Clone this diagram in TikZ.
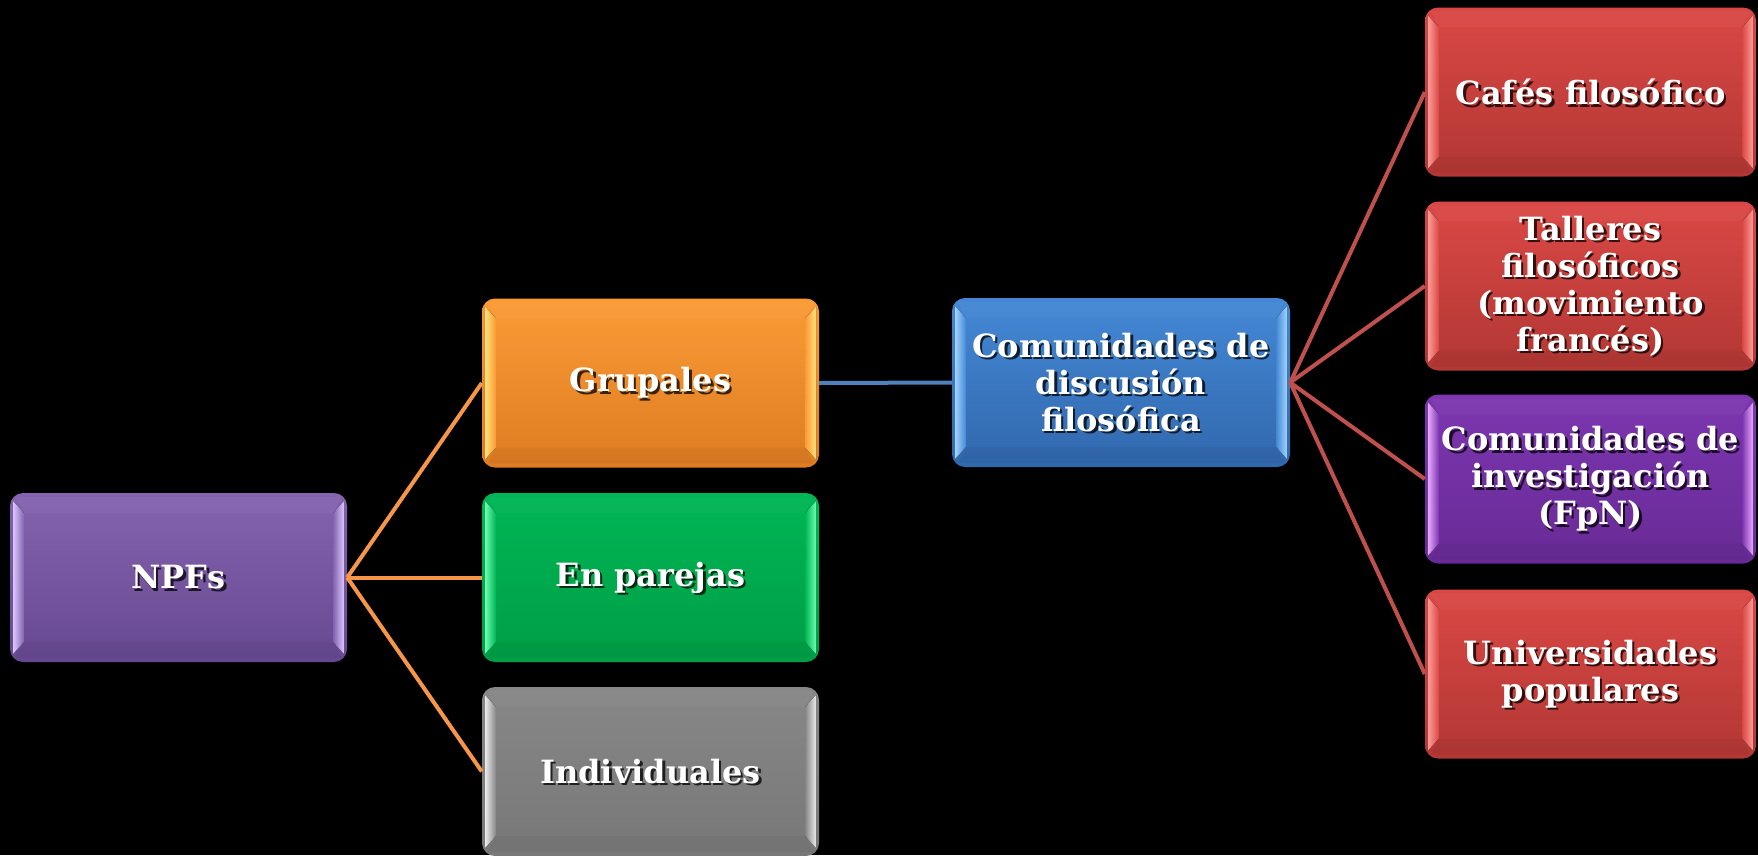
\documentclass[tikz,border=0pt]{standalone}
\usepackage{fontspec}
\setmainfont{DejaVu Serif}
\definecolor{pPtop}{HTML}{8564AF}
\definecolor{pPbot}{HTML}{664890}
\definecolor{pPhi}{HTML}{DCC8FF}
\definecolor{pOtop}{HTML}{FA9B36}
\definecolor{pObot}{HTML}{DE7C22}
\definecolor{pOhi}{HTML}{FFE27C}
\definecolor{pGtop}{HTML}{00B655}
\definecolor{pGbot}{HTML}{009E46}
\definecolor{pGhi}{HTML}{70FFB4}
\definecolor{pYtop}{HTML}{878787}
\definecolor{pYbot}{HTML}{787878}
\definecolor{pYhi}{HTML}{EDEDED}
\definecolor{pBtop}{HTML}{4488D5}
\definecolor{pBbot}{HTML}{3168AD}
\definecolor{pBhi}{HTML}{A2D6FF}
\definecolor{pRtop}{HTML}{DA4845}
\definecolor{pRbot}{HTML}{B23734}
\definecolor{pRhi}{HTML}{FF9C97}
\definecolor{pVtop}{HTML}{7D36B0}
\definecolor{pVbot}{HTML}{682B96}
\definecolor{pVhi}{HTML}{E9AAFF}
\definecolor{lineO}{HTML}{F79646}
\definecolor{lineB}{HTML}{4F81BD}
\definecolor{lineR}{HTML}{C0504D}
\newcommand{\gbox}[5]{%
  \node[gboxshape, minimum width=#3, top color=#4top, bottom color=#4bot] (#1) at #2 {};
  \fill[left color=#4hi, right color=#4top]
    ([shift={(3,8)}]#1.north west) -- ([shift={(14,20)}]#1.north west) --
    ([shift={(14,-20)}]#1.south west) -- ([shift={(3,-8)}]#1.south west) -- cycle;
  \fill[left color=#4top, right color=#4hi]
    ([shift={(-3,8)}]#1.north east) -- ([shift={(-14,20)}]#1.north east) --
    ([shift={(-14,-20)}]#1.south east) -- ([shift={(-3,-8)}]#1.south east) -- cycle;
  \fill[#4bot!80!black, opacity=0.2]
    ([shift={(14,-20)}]#1.south west) -- ([shift={(-14,-20)}]#1.south east) --
    ([shift={(-6,-4)}]#1.south east) -- ([shift={(6,-4)}]#1.south west) -- cycle;
  \fill[#4top!85!white, opacity=0.2]
    ([shift={(14,20)}]#1.north west) -- ([shift={(-14,20)}]#1.north east) --
    ([shift={(-6,4)}]#1.north east) -- ([shift={(6,4)}]#1.north west) -- cycle;
  \node[txtsh] (#1s) at ([shift={(2.5,2.5)}]#1.center) {#5};
  \node[txt] (#1t) at (#1.center) {#5};
}
\begin{document}
\begin{tikzpicture}[x=1pt, y=-1pt,
  gboxshape/.style={rectangle, rounded corners=13pt, minimum height=169pt, inner sep=0pt, draw=none},
  txt/.style={align=center, text=white, inner sep=0pt, font=\fontsize{32}{37}\selectfont\bfseries},
  txtsh/.style={txt, text=black, text opacity=0.75},
  conn/.style={line width=4pt},
]
\useasboundingbox (0,0) rectangle (1758,855);
\fill[black] (0,0) rectangle (1758,855);

\gbox{npf}{(178.5,577.5)}{337pt}{pP}{NPFs}
\gbox{grp}{(650.5,383)}{337pt}{pO}{Grupales}
\gbox{par}{(650.5,577.5)}{337pt}{pG}{En parejas}
\gbox{ind}{(650.5,771.5)}{337pt}{pY}{Individuales}
\gbox{cdf}{(1121,382.5)}{338pt}{pB}{Comunidades de\\discusión\\filosófica}
\gbox{caf}{(1590.5,92)}{331pt}{pR}{Cafés filosófico}
\gbox{tal}{(1590.5,286)}{331pt}{pR}{Talleres\\filosóficos\\(movimiento\\francés)}
\gbox{fpn}{(1590.5,479)}{331pt}{pV}{Comunidades de\\investigación\\(FpN)}
\gbox{uni}{(1590.5,674)}{331pt}{pR}{Universidades\\populares}

\draw[conn, lineO] (npf.east) -- (grp.west);
\draw[conn, lineO] (npf.east) -- (par.west);
\draw[conn, lineO] (npf.east) -- (ind.west);
\draw[conn, lineB] (grp.east) -- (cdf.west);
\draw[conn, lineR] (cdf.east) -- (caf.west);
\draw[conn, lineR] (cdf.east) -- (tal.west);
\draw[conn, lineR] (cdf.east) -- (fpn.west);
\draw[conn, lineR] (cdf.east) -- (uni.west);
\end{tikzpicture}
\end{document}
